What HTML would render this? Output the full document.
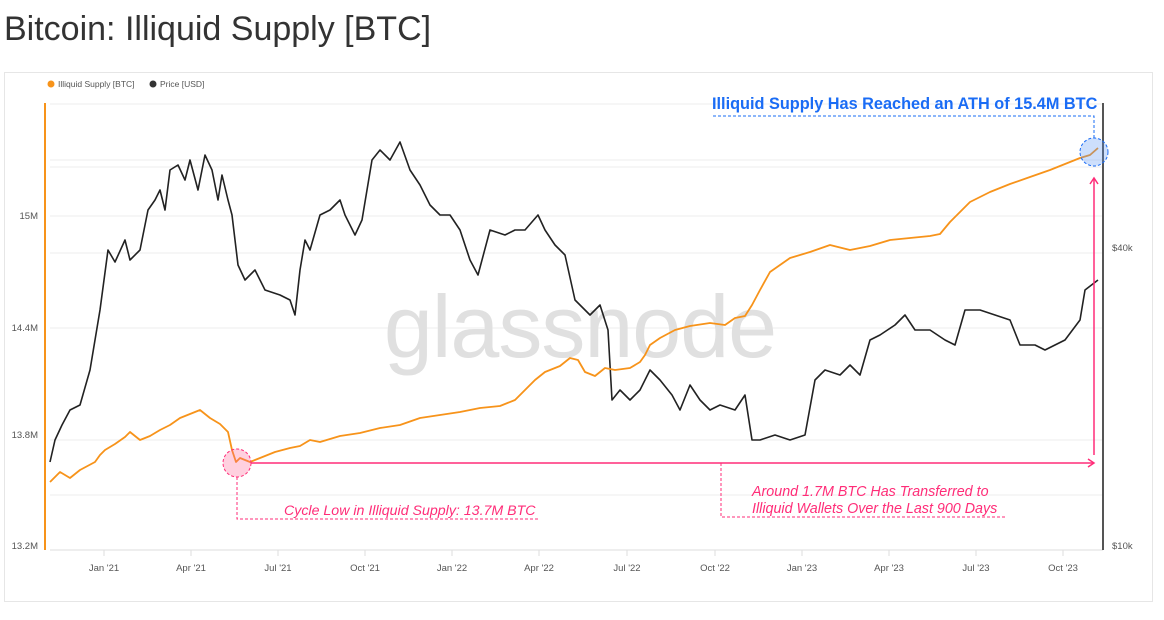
<!DOCTYPE html>
<html><head><meta charset="utf-8"><style>
body{margin:0;width:1164px;height:615px;background:#fff;font-family:"Liberation Sans",sans-serif;overflow:hidden}
</style></head><body>
<svg width="1164" height="615" xmlns="http://www.w3.org/2000/svg" font-family="Liberation Sans, sans-serif">
<text x="4" y="40" font-size="34" fill="#333">Bitcoin: Illiquid Supply [BTC]</text>
<rect x="4.5" y="72.5" width="1148" height="529" fill="#fff" stroke="#e6e6e6"/>
<circle cx="51" cy="84" r="3.5" fill="#f7931a"/><text x="58" y="87" font-size="8.5" fill="#555">Illiquid Supply [BTC]</text>
<circle cx="153" cy="84" r="3.5" fill="#333"/><text x="160" y="87" font-size="8.5" fill="#555">Price [USD]</text>
<g stroke="#eee" stroke-width="1">
<line x1="50" y1="104" x2="1103" y2="104"/><line x1="50" y1="160" x2="1103" y2="160"/><line x1="50" y1="167" x2="1103" y2="167"/>
<line x1="50" y1="216" x2="1103" y2="216"/><line x1="50" y1="253" x2="1103" y2="253"/><line x1="50" y1="328" x2="1103" y2="328"/>
<line x1="50" y1="440" x2="1103" y2="440"/><line x1="50" y1="495" x2="1103" y2="495"/>
</g>
<line x1="50" y1="550" x2="1103" y2="550" stroke="#ddd"/>
<g stroke="#ddd"><line x1="104" y1="550" x2="104" y2="556"/><line x1="191" y1="550" x2="191" y2="556"/><line x1="278" y1="550" x2="278" y2="556"/><line x1="365" y1="550" x2="365" y2="556"/><line x1="452" y1="550" x2="452" y2="556"/><line x1="539" y1="550" x2="539" y2="556"/><line x1="627" y1="550" x2="627" y2="556"/><line x1="715" y1="550" x2="715" y2="556"/><line x1="802" y1="550" x2="802" y2="556"/><line x1="889" y1="550" x2="889" y2="556"/><line x1="976" y1="550" x2="976" y2="556"/><line x1="1063" y1="550" x2="1063" y2="556"/></g>
<g font-size="9.5" fill="#555" text-anchor="middle">
<text x="104" y="571">Jan '21</text><text x="191" y="571">Apr '21</text><text x="278" y="571">Jul '21</text><text x="365" y="571">Oct '21</text><text x="452" y="571">Jan '22</text><text x="539" y="571">Apr '22</text><text x="627" y="571">Jul '22</text><text x="715" y="571">Oct '22</text><text x="802" y="571">Jan '23</text><text x="889" y="571">Apr '23</text><text x="976" y="571">Jul '23</text><text x="1063" y="571">Oct '23</text>
</g>
<g font-size="9.5" fill="#555" text-anchor="end"><text x="38" y="219">15M</text><text x="38" y="331">14.4M</text><text x="38" y="438">13.8M</text><text x="38" y="549">13.2M</text></g>
<g font-size="9.5" fill="#555"><text x="1112" y="251">$40k</text><text x="1112" y="549">$10k</text></g>
<line x1="45" y1="103" x2="45" y2="550" stroke="#f7931a" stroke-width="2"/>
<line x1="1103" y1="103" x2="1103" y2="550" stroke="#555" stroke-width="2"/>
<text x="580" y="357" font-size="88" fill="#e0e0e0" text-anchor="middle" letter-spacing="-1">glassnode</text>
<polyline fill="none" stroke="#222" stroke-width="1.6" stroke-linejoin="round" points="50,462 55,440 62,425 70,410 80,405 90,370 100,310 108,250 115,262 125,240 130,260 140,250 148,210 155,200 160,190 165,210 170,170 178,165 185,180 190,160 198,190 205,155 212,170 218,200 222,175 228,200 232,215 238,265 245,280 255,270 265,290 280,295 290,300 295,315 300,270 305,240 310,250 320,215 330,210 340,200 345,215 355,235 362,220 372,160 380,150 390,160 400,142 410,170 420,185 430,205 440,215 450,215 460,230 470,260 478,275 490,230 505,235 515,230 525,230 538,215 545,230 555,245 565,255 575,300 590,315 600,305 608,330 612,400 620,390 630,400 640,390 650,370 660,380 672,395 680,410 690,385 700,400 710,410 720,405 735,410 745,395 752,440 760,440 775,435 790,440 805,435 815,380 825,370 840,375 850,365 860,375 870,340 880,335 895,325 905,315 915,330 930,330 945,340 955,345 965,310 980,310 995,315 1010,320 1020,345 1035,345 1045,350 1065,340 1080,320 1085,290 1098,280"/>
<polyline fill="none" stroke="#f7931a" stroke-width="1.8" stroke-linejoin="round" points="50,482 60,472 70,478 80,470 95,462 100,455 105,450 115,444 125,437 130,432 140,440 150,436 160,430 170,425 180,418 190,414 200,410 210,418 220,424 228,432 232,450 236,462 240,458 250,462 260,458 275,452 290,448 300,446 310,440 320,442 340,436 360,433 380,428 400,425 420,418 440,415 460,412 480,408 500,406 515,400 525,390 535,380 545,372 560,366 570,358 578,360 585,372 595,376 605,368 615,370 630,368 640,362 645,355 650,345 660,338 675,330 690,326 710,323 725,325 735,318 745,316 752,305 760,290 770,272 780,265 790,258 810,252 830,245 850,250 870,246 890,240 910,238 930,236 940,234 950,222 960,212 970,202 990,192 1010,184 1030,177 1050,170 1070,162 1080,158 1090,155 1098,148"/>
<text x="712" y="109" font-size="16.3" font-weight="bold" fill="#1a6cf5">Illiquid Supply Has Reached an ATH of 15.4M BTC</text>
<polyline points="713,116 1094,116 1094,138" fill="none" stroke="#1a6cf5" stroke-dasharray="3,2"/>
<circle cx="1094" cy="152" r="14" fill="rgba(90,150,245,0.3)" stroke="#1a6cf5" stroke-dasharray="3,2"/>
<circle cx="237" cy="463" r="14" fill="rgba(255,100,150,0.3)" stroke="#ff2d78" stroke-dasharray="3,2"/>
<line x1="251" y1="463" x2="1094" y2="463" stroke="#ff2d78" stroke-width="1.5"/>
<polyline points="1088,459 1094,463 1088,467" fill="none" stroke="#ff2d78" stroke-width="1.5"/>
<line x1="1094" y1="455" x2="1094" y2="178" stroke="#ff2d78" stroke-width="1.5"/>
<polyline points="1090,184 1094,178 1098,184" fill="none" stroke="#ff2d78" stroke-width="1.5"/>
<polyline points="237,477 237,519 540,519" fill="none" stroke="#ff2d78" stroke-dasharray="3,2"/>
<polyline points="721,463 721,517 1005,517" fill="none" stroke="#ff2d78" stroke-dasharray="3,2"/>
<g font-style="italic" fill="#ff2d78">
<text x="284" y="515" font-size="14.2">Cycle Low in Illiquid Supply: 13.7M BTC</text>
<text x="752" y="496" font-size="14.3">Around 1.7M BTC Has Transferred to</text>
<text x="752" y="513" font-size="14.3">Illiquid Wallets Over the Last 900 Days</text>
</g>
</svg>
</body></html>
